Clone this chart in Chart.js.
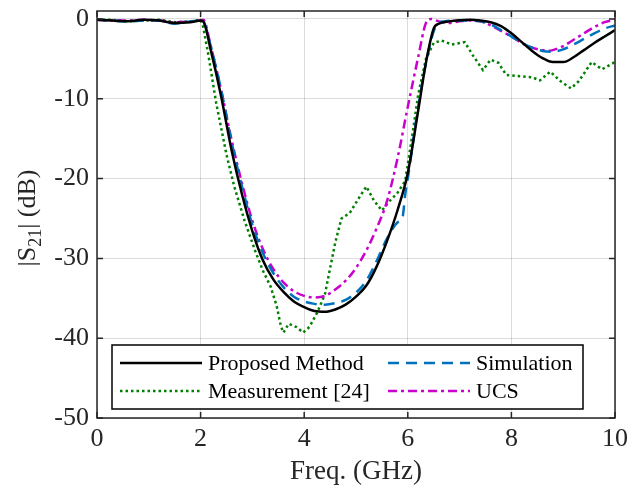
<!DOCTYPE html>
<html>
<head>
<meta charset="utf-8">
<script src="https://cdn.jsdelivr.net/npm/chart.js@4"></script>
<style>
  html, body { margin: 0; padding: 0; background: #fff; }
  #wrap { width: 630px; height: 488px; }
</style>
</head>
<body>
<div id="wrap"><canvas id="s21Chart" width="630" height="488"></canvas></div>
<script>
// frequency (GHz) and |S21| (dB)
const freqProposed = [0, 0.3, 0.6, 0.9, 1.2, 1.5, 1.8, 2.0, 2.05, 2.2, 2.4, 2.6, 2.8, 3.0, 3.2, 3.4, 3.6, 3.8, 4.0, 4.2, 4.4, 4.6, 4.8, 5.0, 5.2, 5.4, 5.6, 5.8, 6.0, 6.2, 6.35, 6.5, 6.6, 6.8, 7.0, 7.2, 7.4, 7.6, 7.8, 8.0, 8.2, 8.4, 8.6, 8.8, 9.0, 9.2, 9.4, 9.6, 9.8, 10];
const s21Proposed = [-0.1, -0.2, -0.3, -0.1, -0.2, -0.5, -0.4, -0.2, -0.3, -4, -9.8, -16.5, -22, -26.6, -30.2, -32.6, -34.2, -35.4, -36.1, -36.6, -36.7, -36.4, -35.8, -34.8, -33.4, -31.0, -27.8, -24, -19.3, -11.5, -5.5, -1.2, -0.6, -0.3, -0.15, -0.1, -0.2, -0.4, -0.9, -1.8, -2.9, -4.0, -4.9, -5.4, -5.4, -4.8, -3.9, -3.0, -2.2, -1.4];

const freqSim = [0, 0.3, 0.6, 0.9, 1.2, 1.5, 1.8, 2.0, 2.05, 2.2, 2.4, 2.6, 2.8, 3.0, 3.2, 3.4, 3.6, 3.8, 4.0, 4.2, 4.4, 4.6, 4.8, 5.0, 5.2, 5.4, 5.6, 5.8, 5.9, 5.95, 6.0, 6.2, 6.4, 6.55, 6.7, 7.0, 7.2, 7.4, 7.6, 7.8, 8.0, 8.2, 8.4, 8.6, 8.8, 9.0, 9.2, 9.4, 9.6, 9.8, 10];
const s21Sim = [-0.1, -0.2, -0.3, -0.2, -0.2, -0.6, -0.3, -0.2, -0.3, -3.5, -9, -15.5, -21, -25.8, -29.3, -31.8, -33.6, -34.8, -35.4, -35.7, -35.8, -35.6, -35.2, -34.3, -32.8, -30.3, -27.5, -25.5, -24.8, -22, -20, -11, -4, -0.8, -0.3, -0.2, -0.2, -0.3, -0.7, -1.4, -2.2, -3.0, -3.6, -4.0, -4.1, -3.8, -3.2, -2.5, -1.8, -1.2, -0.8];

const freqMeas = [0, 0.3, 0.6, 0.9, 1.2, 1.5, 1.8, 2.0, 2.05, 2.15, 2.3, 2.5, 2.65, 2.85, 3.05, 3.2, 3.35, 3.47, 3.55, 3.6, 3.7, 3.85, 3.98, 4.1, 4.25, 4.4, 4.6, 4.72, 4.88, 5.05, 5.2, 5.35, 5.5, 5.65, 5.8, 5.95, 6.1, 6.2, 6.35, 6.5, 6.65, 6.85, 7.1, 7.25, 7.45, 7.6, 7.75, 7.9, 8.2, 8.4, 8.55, 8.75, 8.95, 9.15, 9.3, 9.55, 9.75, 10];
const s21Meas = [-0.1, -0.1, -0.3, -0.2, -0.1, -0.4, -0.3, -0.1, -1, -4.5, -10.5, -17, -21, -25.3, -29, -31.5, -33.5, -36, -38.5, -39.3, -38.2, -38.6, -39.3, -38.6, -36.8, -34.5, -28, -25, -24.3, -22.5, -21, -22.8, -24, -22.8, -21.8, -20.3, -14, -9.5, -5, -3, -2.7, -3.2, -2.9, -4.5, -6.4, -5.1, -5.5, -7, -7.2, -7.3, -7.7, -6.6, -7.8, -8.7, -7.8, -5.4, -6.3, -5.4];

const freqUcs = [0, 0.3, 0.6, 0.9, 1.2, 1.5, 1.8, 2.0, 2.05, 2.2, 2.4, 2.6, 2.8, 3.0, 3.2, 3.4, 3.6, 3.8, 4.0, 4.2, 4.4, 4.6, 4.8, 5.0, 5.2, 5.4, 5.6, 5.8, 6.0, 6.2, 6.35, 6.45, 6.6, 6.8, 7.0, 7.2, 7.4, 7.6, 7.8, 8.0, 8.2, 8.4, 8.6, 8.7, 8.8, 9.0, 9.2, 9.4, 9.6, 9.8, 10];
const s21Ucs = [-0.1, -0.2, -0.2, -0.1, -0.2, -0.4, -0.3, -0.2, -0.1, -3.5, -9, -15.2, -20.6, -25.3, -28.8, -31.3, -33, -34.1, -34.7, -34.9, -34.7, -33.9, -32.8, -31.2, -29, -26.2, -22.8, -17.5, -11, -4.8, -0.5, 0, -0.3, -0.5, -0.3, -0.2, -0.3, -0.8, -1.5, -2.2, -3.0, -3.6, -3.9, -4.0, -3.9, -3.4, -2.6, -1.8, -1.0, -0.4, -0.1];

const xTicks = [0, 2, 4, 6, 8, 10];
const yTicks = [-50, -40, -30, -20, -10, 0];

function pts(xs, ys) {
    return xs.map((x, i) => ({x: x, y: ys[i]}));
}

const serif = '"Liberation Serif", "Times New Roman", serif';

// 프레임, 안쪽 눈금, 범례, y축 제목
const figurePlugin = {
    id: 'figureDecor',
    afterDraw(chart) {
        const {ctx, chartArea: {left, top, right, bottom}} = chart;
        const xs = chart.scales.x, ys = chart.scales.y;

        ctx.save();
        ctx.strokeStyle = '#262626';
        ctx.lineWidth = 1.5;
        ctx.strokeRect(left, top, right - left, bottom - top);
        ctx.beginPath();
        for (let v of xTicks) {
            const px = xs.getPixelForValue(v);
            ctx.moveTo(px, bottom); ctx.lineTo(px, bottom - 6);
            ctx.moveTo(px, top); ctx.lineTo(px, top + 6);
        }
        for (let v of yTicks) {
            const py = ys.getPixelForValue(v);
            ctx.moveTo(left, py); ctx.lineTo(left + 6, py);
            ctx.moveTo(right, py); ctx.lineTo(right - 6, py);
        }
        ctx.stroke();

        // legend box
        const bx = 112, by = 345, bw = 471, bh = 64;
        ctx.fillStyle = '#fff';
        ctx.fillRect(bx, by, bw, bh);
        ctx.strokeStyle = '#000';
        ctx.lineWidth = 1.5;
        ctx.strokeRect(bx, by, bw, bh);

        const items = [
            {ds: 0, x: 120, y: 363},
            {ds: 1, x: 388, y: 363},
            {ds: 2, x: 120, y: 391},
            {ds: 3, x: 388, y: 391}
        ];
        ctx.font = '22px ' + serif;
        ctx.textBaseline = 'middle';
        ctx.textAlign = 'left';
        for (let it of items) {
            const d = chart.data.datasets[it.ds];
            ctx.strokeStyle = d.borderColor;
            ctx.lineWidth = d.borderWidth;
            ctx.setLineDash(d.borderDash || []);
            ctx.beginPath();
            ctx.moveTo(it.x, it.y);
            ctx.lineTo(it.x + 82, it.y);
            ctx.stroke();
            ctx.setLineDash([]);
            ctx.fillStyle = '#000';
            ctx.fillText(d.label, it.x + 88, it.y + 1);
        }

        // y title with subscript
        ctx.translate(26, 218);
        ctx.rotate(-Math.PI / 2);
        ctx.fillStyle = '#262626';
        ctx.textBaseline = 'alphabetic';
        const big = '26px ' + serif, small = '18px ' + serif;
        ctx.font = big;
        const w1 = ctx.measureText('|S').width;
        const w3 = ctx.measureText('| (dB)').width;
        ctx.font = small;
        const w2 = ctx.measureText('21').width;
        let x0 = -(w1 + w2 + w3) / 2;
        ctx.font = big;
        ctx.fillText('|S', x0, 9);
        ctx.font = small;
        ctx.fillText('21', x0 + w1, 15);
        ctx.font = big;
        ctx.fillText('| (dB)', x0 + w1 + w2, 9);
        ctx.restore();
    }
};

const ctx = document.getElementById('s21Chart').getContext('2d');
const s21Chart = new Chart(ctx, {
    type: 'line',
    data: {
        datasets: [
            {
                label: 'Proposed Method',
                data: pts(freqProposed, s21Proposed),
                borderColor: '#000000',
                borderWidth: 2.5,
                cubicInterpolationMode: 'monotone',
                pointRadius: 0,
                order: 0
            },
            {
                label: 'Simulation',
                data: pts(freqSim, s21Sim),
                borderColor: '#0072BD',
                borderWidth: 2.5,
                borderDash: [11, 7],
                cubicInterpolationMode: 'monotone',
                pointRadius: 0,
                order: 1
            },
            {
                label: 'Measurement [24]',
                data: pts(freqMeas, s21Meas),
                borderColor: '#008000',
                borderWidth: 2.5,
                borderDash: [2.5, 3],
                tension: 0,
                pointRadius: 0,
                order: 3
            },
            {
                label: 'UCS',
                data: pts(freqUcs, s21Ucs),
                borderColor: '#CC00CC',
                borderWidth: 2.5,
                borderDash: [9, 4, 3, 4],
                cubicInterpolationMode: 'monotone',
                pointRadius: 0,
                order: 2
            }
        ]
    },
    options: {
        responsive: false,
        animation: false,
        layout: { padding: { top: 11, right: 15, left: 0, bottom: 0 } },
        plugins: {
            legend: { display: false },
            tooltip: { enabled: false }
        },
        scales: {
            x: {
                type: 'linear',
                min: 0,
                max: 10,
                afterBuildTicks: axis => { axis.ticks = xTicks.map(v => ({value: v})); },
                afterFit: axis => { axis.height = 70; axis.paddingLeft = 0; axis.paddingRight = 0; },
                grid: { color: 'rgba(0,0,0,0.14)', lineWidth: 1, drawTicks: false },
                border: { display: false },
                ticks: {
                    color: '#262626',
                    font: { family: serif, size: 26 },
                    padding: 6,
                    maxRotation: 0
                },
                title: {
                    display: true,
                    text: 'Freq. (GHz)',
                    color: '#262626',
                    font: { family: serif, size: 27 },
                    padding: { top: 0, bottom: 0 }
                }
            },
            y: {
                min: -50,
                max: 1,
                afterBuildTicks: axis => { axis.ticks = yTicks.map(v => ({value: v})); },
                afterFit: axis => { axis.width = 97; axis.paddingTop = 0; axis.paddingBottom = 0; },
                grid: { color: 'rgba(0,0,0,0.14)', lineWidth: 1, drawTicks: false },
                border: { display: false },
                ticks: {
                    color: '#262626',
                    font: { family: serif, size: 26 },
                    padding: 8
                }
            }
        }
    },
    plugins: [figurePlugin]
});
</script>
</body>
</html>
